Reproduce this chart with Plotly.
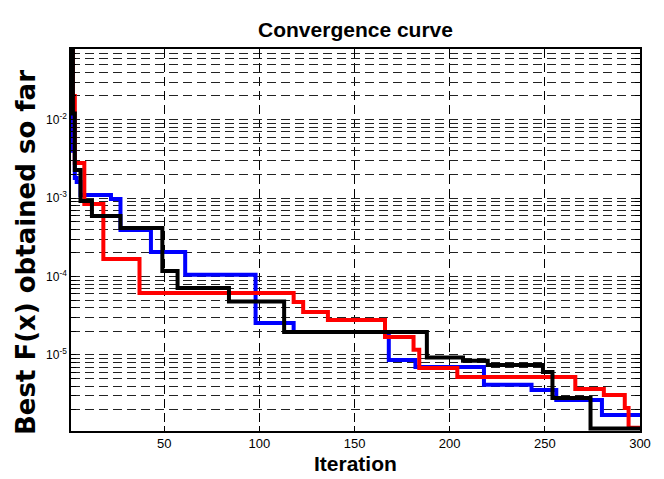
import plotly.graph_objects as go

# Change points of each convergence curve (iteration, best value); held until next change
blue_iter = [1, 2, 3, 4, 6, 22, 27, 43, 61, 98, 118, 168, 182, 218, 243, 256, 280, 300]
blue_val = [0.1, 0.004, 1.8e-3, 1.6e-3, 1.09e-3, 9.7e-4, 3.9e-4, 2.05e-4, 1.05e-4,
            2.56e-5, 1.96e-5, 8.63e-6, 7.03e-6, 4.15e-6, 3.58e-6, 2.67e-6, 1.72e-6, 1.72e-6]

red_iter = [1, 2, 3, 8, 18, 37, 118, 123, 136, 166, 181, 184, 204, 266, 281, 292, 294, 300]
red_val = [0.15, 0.02, 2.79e-3, 8.4e-4, 1.67e-4, 6.17e-5, 4.73e-5, 3.53e-5, 2.79e-5,
           1.69e-5, 1.16e-5, 6.83e-6, 5.24e-6, 3.69e-6, 3.09e-6, 2.11e-6, 1.18e-6, 1.18e-6]

black_iter = [1, 2, 3, 6, 12, 27, 49, 57, 84, 113, 188, 207, 220, 249, 254, 274, 300]
black_val = [0.3, 0.012, 2.27e-3, 9.15e-4, 5.9e-4, 4.15e-4, 1.175e-4, 7.15e-5, 4.8e-5,
             1.96e-5, 9.3e-6, 8.4e-6, 7.46e-6, 6.07e-6, 2.83e-6, 1.15e-6, 1.15e-6]

x_ticks = [50, 100, 150, 200, 250, 300]
decades = [-6, -5, -4, -3, -2, -1]
labeled_decades = [-5, -4, -3, -2]

y_tickvals = []
y_ticktext = []
for d in decades:
    for k in range(1, 10):
        y_tickvals.append(k * 10.0 ** d)
        y_ticktext.append("10<sup>%d</sup>" % d if (k == 1 and d in labeled_decades) else "")

fig = go.Figure()
for xs, ys, col in [(blue_iter, blue_val, "#0000ff"),
                    (red_iter, red_val, "#ff0000"),
                    (black_iter, black_val, "#000000")]:
    fig.add_trace(go.Scatter(x=xs, y=ys, mode="lines", line=dict(color=col, width=4, shape="hv"),
                             showlegend=False))

font_main = "Liberation Sans, Arial, Helvetica, sans-serif"

fig.update_layout(
    width=664, height=479,
    margin=dict(l=71, r=24, t=49, b=48),
    paper_bgcolor="white", plot_bgcolor="white",
    font=dict(family=font_main, color="black"),
    title=dict(text="Convergence curve", x=0.5, xref="paper", xanchor="center",
               y=1 - 30 / 479, yref="container", yanchor="middle",
               font=dict(family=font_main, size=21, weight="bold", color="black")),
)

fig.update_xaxes(
    range=[1, 300], tickvals=x_ticks, ticks="inside", ticklen=5, tickcolor="black",
    showline=True, linecolor="black", linewidth=1.5, mirror="allticks",
    showgrid=True, gridcolor="black", gridwidth=1, griddash="9px,5px", zeroline=False,
    tickfont=dict(size=13, family=font_main, color="black"),
)
fig.update_yaxes(
    type="log", range=[-5.97, -1.10], tickvals=y_tickvals, ticktext=y_ticktext,
    ticks="inside", ticklen=5, tickcolor="black",
    showline=True, linecolor="black", linewidth=1.5, mirror="allticks",
    showgrid=True, gridcolor="#222222", gridwidth=1, griddash="9px,5px", zeroline=False,
    tickfont=dict(size=12, family=font_main, color="black"),
)

fig.add_annotation(text="Iteration", xref="paper", yref="paper", x=0.5, y=(431 - 463) / 382,
                   xanchor="center", yanchor="middle", showarrow=False,
                   font=dict(family=font_main, size=21, weight="bold", color="black"))
fig.add_annotation(text="Best F(x) obtained so far", xref="paper", yref="paper",
                   x=(26 - 71) / 569, y=(431 - 253) / 382, textangle=-90,
                   xanchor="center", yanchor="middle", showarrow=False,
                   font=dict(family="DejaVu Sans, sans-serif", size=26, weight="bold", color="black"))

fig.write_html("out.html")
